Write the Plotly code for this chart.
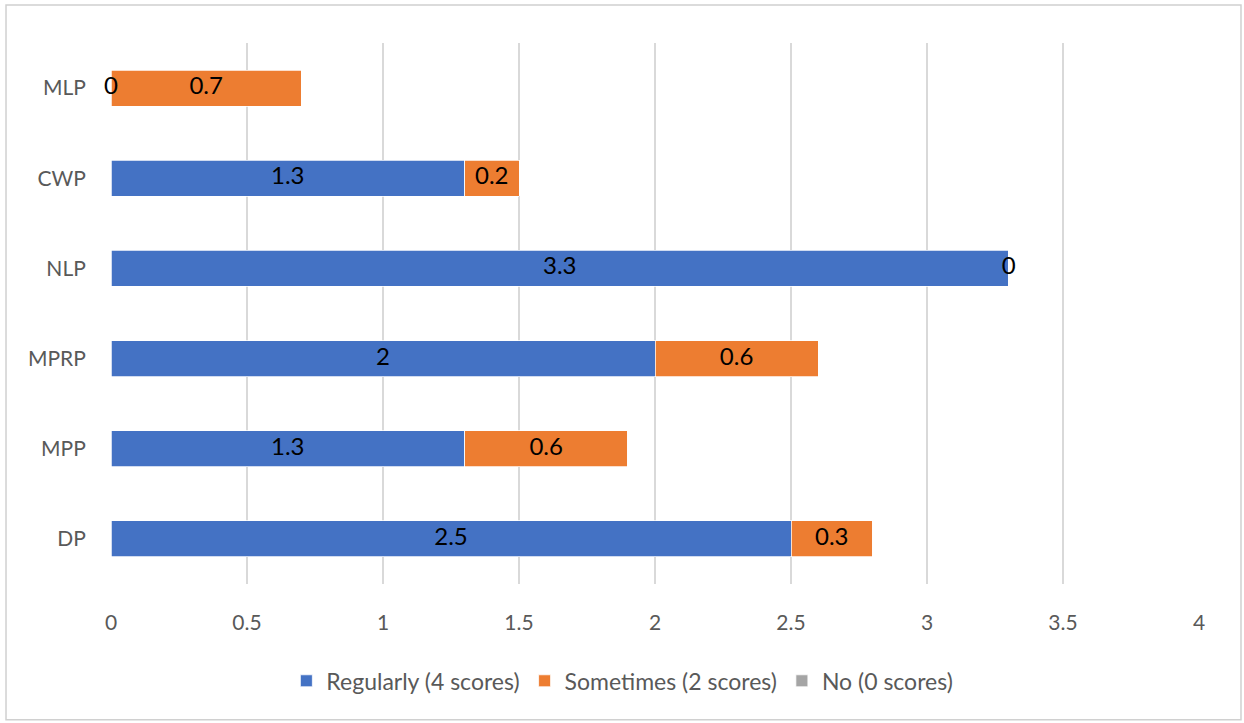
import plotly.graph_objects as go

categories = ["DP", "MPP", "MPRP", "NLP", "CWP", "MLP"]
regularly = [2.5, 1.3, 2, 3.3, 1.3, 0]
sometimes = [0.3, 0.6, 0.6, 0, 0.2, 0.7]
no_vals = [0, 0, 0, 0, 0, 0]
series_names = ["Regularly (4 scores)", "Sometimes (2 scores)", "No (0 scores)"]
colors = ["#4472C4", "#ED7D31", "#A5A5A5"]
x_ticks = [0, 0.5, 1, 1.5, 2, 2.5, 3, 3.5, 4]

FONT = "Lato, 'Open Sans', sans-serif"

fig = go.Figure()
for name, vals, col in zip(series_names, [regularly, sometimes, no_vals], colors):
    fig.add_trace(go.Bar(
        y=categories, x=vals, name=name, orientation="h",
        marker=dict(color=col, line=dict(color="white", width=0.75)),
        hoverinfo="x+y+name",
    ))

# data labels for Regularly and Sometimes (including zero values)
lab_x, lab_y, lab_t = [], [], []
for i, c in enumerate(categories):
    lab_x.append(regularly[i] / 2); lab_y.append(c); lab_t.append(f"{regularly[i]:g}")
    lab_x.append(regularly[i] + sometimes[i] / 2); lab_y.append(c); lab_t.append(f"{sometimes[i]:g}")
fig.add_trace(go.Scatter(
    x=lab_x, y=lab_y, text=lab_t, mode="text", showlegend=False,
    textfont=dict(family=FONT, size=24, color="black"),
    textposition="middle center", hoverinfo="skip", cliponaxis=False,
))

fig.update_layout(
    barmode="stack",
    bargap=0.6,
    width=1244, height=723,
    margin=dict(l=111, r=45, t=43, b=139),
    paper_bgcolor="white", plot_bgcolor="white",
    font=dict(family=FONT, size=21, color="#595959"),
    xaxis=dict(
        range=[0, 4], tickvals=x_ticks, ticktext=[f"{v:g}" for v in x_ticks],
        showgrid=True, gridcolor="#D9D9D9", gridwidth=1.5,
        zeroline=False, showline=False,
        ticks="outside", ticklen=20, tickcolor="rgba(0,0,0,0)",
        tickfont=dict(size=21, color="#595959"),
        fixedrange=True,
    ),
    yaxis=dict(
        categoryorder="array", categoryarray=categories,
        showgrid=False, zeroline=False, showline=False,
        ticks="outside", ticklen=20, tickcolor="rgba(0,0,0,0)",
        tickfont=dict(size=21, color="#595959"),
        fixedrange=True,
    ),
    legend=dict(
        orientation="h", x=0.47, xanchor="center", y=-0.179, yanchor="middle",
        font=dict(size=23, color="#595959"), traceorder="normal",
        itemwidth=30,
    ),
    shapes=[dict(
        type="rect", xref="paper", yref="paper",
        x0=-0.0965, x1=1.0386, y0=-0.251, y1=1.0702,
        line=dict(color="#D0D0D0", width=1.5), fillcolor="rgba(0,0,0,0)",
    )],
)

fig.write_html("out.html")
